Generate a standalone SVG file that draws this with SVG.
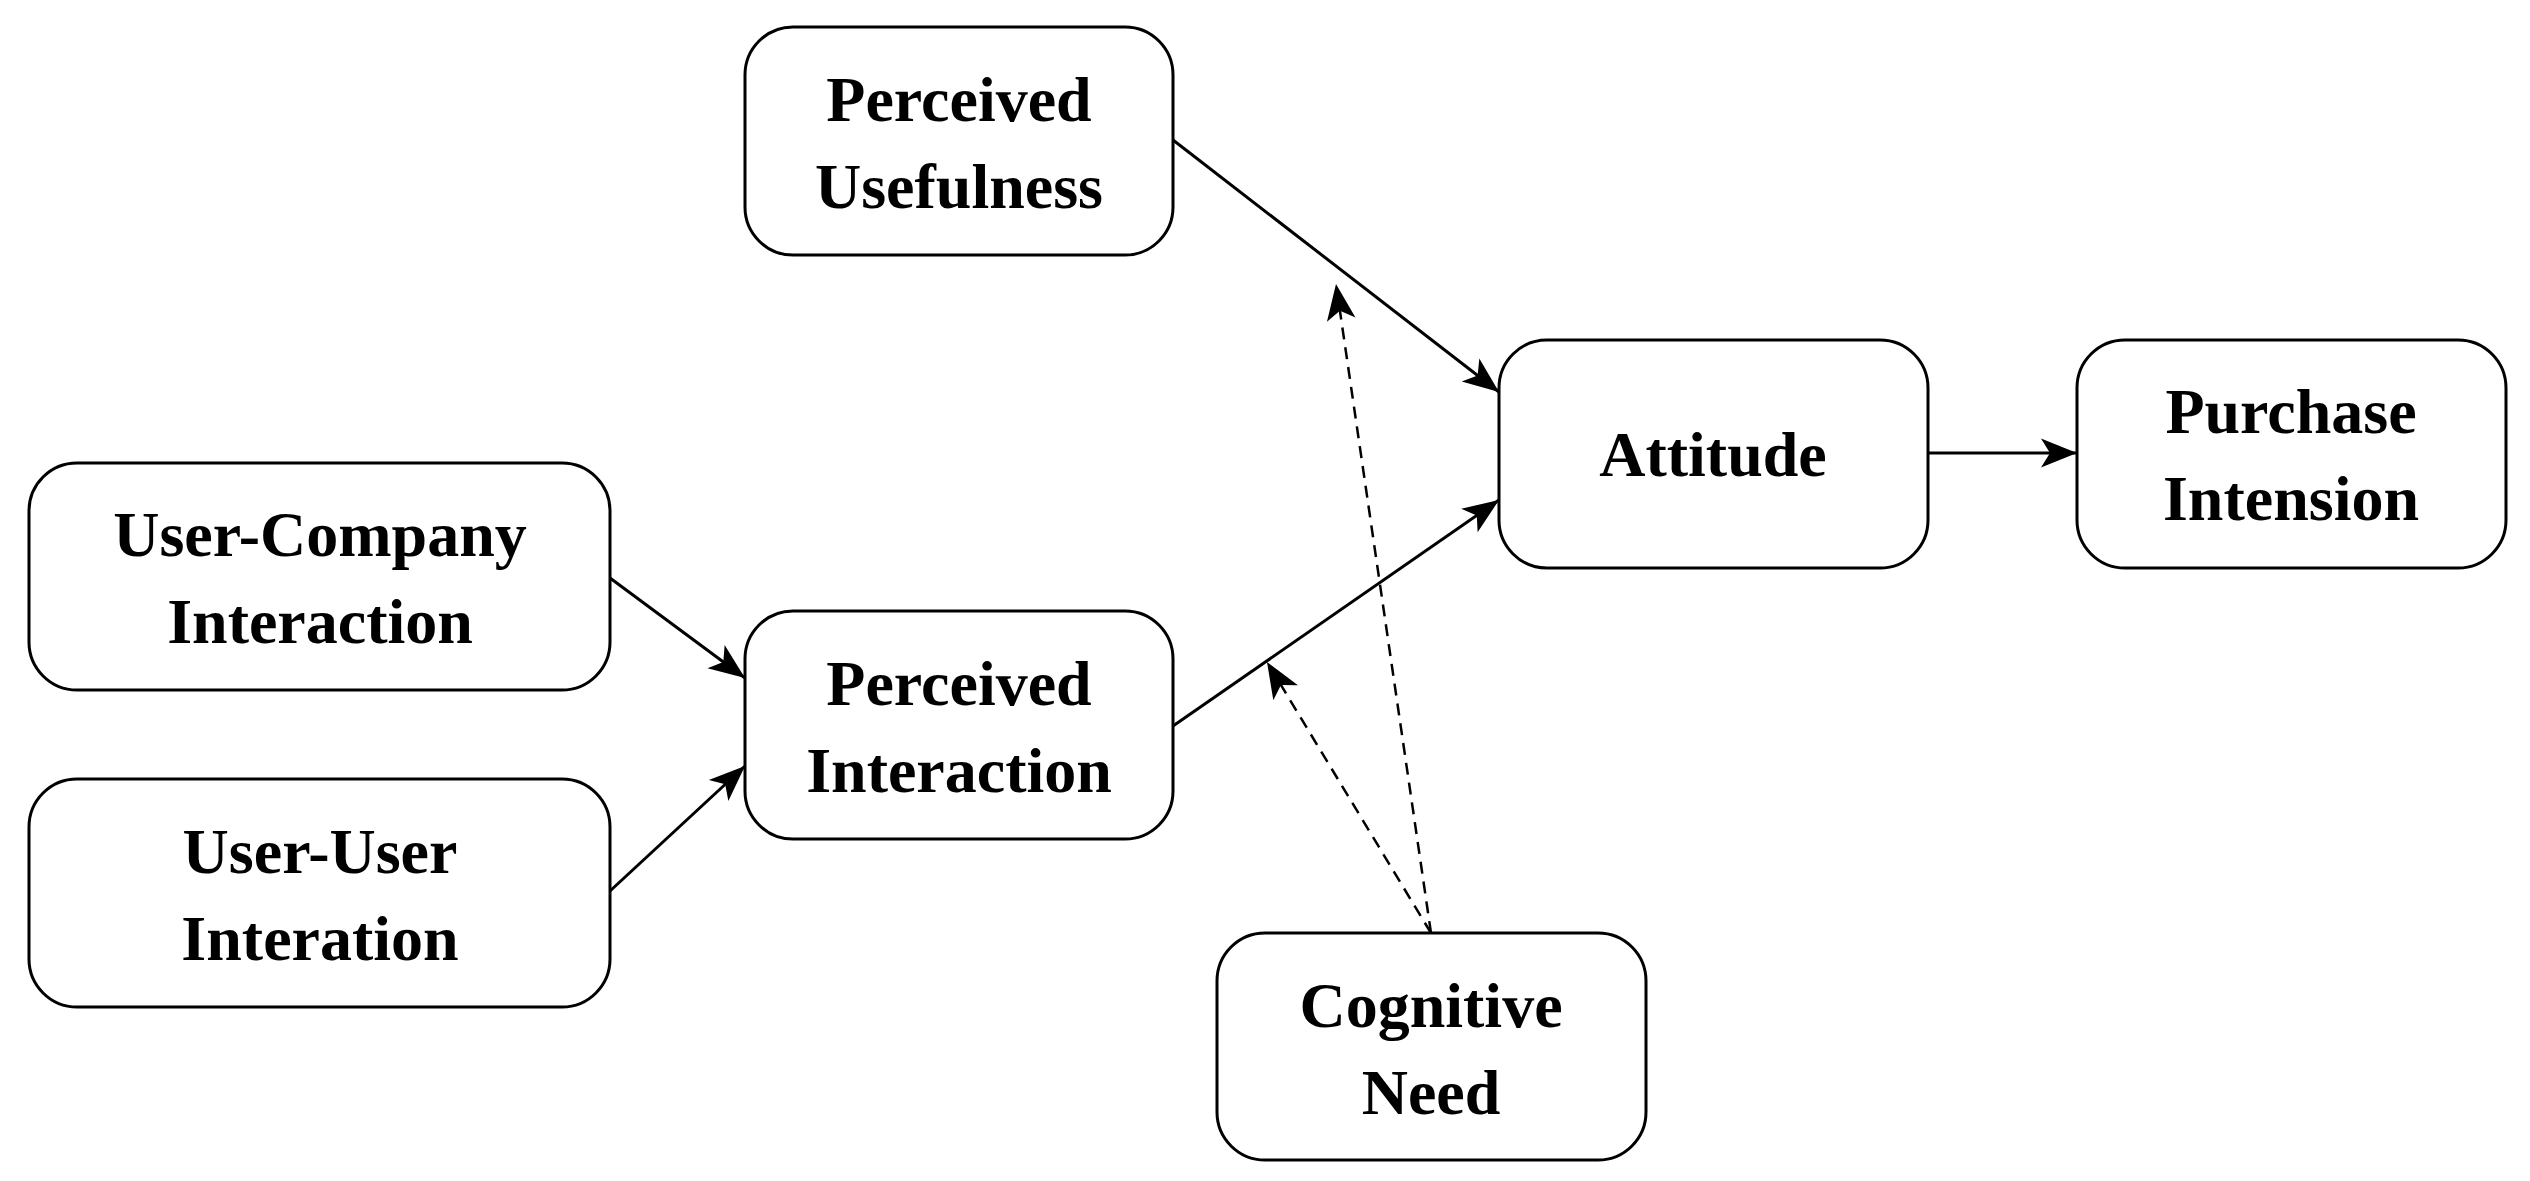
<svg xmlns="http://www.w3.org/2000/svg" width="2530" height="1181" viewBox="0 0 2530 1181">
<style>
.box{fill:#fff;stroke:#000;stroke-width:3}
.t{font-family:"Liberation Serif",serif;font-weight:bold;font-size:64px;text-anchor:middle;fill:#000}
.c{stroke:#000;stroke-width:3;fill:none}
.d{stroke-dasharray:12 8;stroke-width:2.5}
</style>
<defs><marker id="a" viewBox="0 0 10 10" refX="10" refY="5" markerWidth="12" markerHeight="12" markerUnits="userSpaceOnUse" orient="auto"><path d="M0,0L10,5L0,10L2.5,5z" fill="#000"/></marker>
<marker id="b" viewBox="0 0 10 10" refX="10" refY="5" markerWidth="36" markerHeight="36" markerUnits="userSpaceOnUse" orient="auto"><path d="M0,1L10,5L0,9L2.5,5z" fill="#000"/></marker></defs>
<rect width="2530" height="1181" fill="#fff"/>
<g id="connectors">
<line class="c" x1="1173" y1="140" x2="1499" y2="392" marker-end="url(#b)"/>
<line class="c" x1="1173" y1="726" x2="1499" y2="500" marker-end="url(#b)"/>
<line class="c" x1="610" y1="578" x2="745" y2="678" marker-end="url(#b)"/>
<line class="c" x1="610" y1="891" x2="745" y2="766" marker-end="url(#b)"/>
<line class="c" x1="1928" y1="453" x2="2077" y2="453" marker-end="url(#b)"/>
<line class="c d" x1="1431" y1="933" x2="1336" y2="284" marker-end="url(#b)"/>
<line class="c d" x1="1431" y1="933" x2="1267" y2="662" marker-end="url(#b)"/>
</g>
<g id="pu"><rect class="box" x="745" y="27" width="428" height="228" rx="48"/><text class="t" x="959" y="121">Perceived</text><text class="t" x="959" y="208">Usefulness</text></g>
<g id="uc"><rect class="box" x="29" y="463" width="581" height="227" rx="48"/><text class="t" x="320" y="556">User-Company</text><text class="t" x="320" y="643">Interaction</text></g>
<g id="pi"><rect class="box" x="745" y="611" width="428" height="228" rx="48"/><text class="t" x="959" y="705">Perceived</text><text class="t" x="959" y="792">Interaction</text></g>
<g id="uu"><rect class="box" x="29" y="779" width="581" height="228" rx="48"/><text class="t" x="320" y="873">User-User</text><text class="t" x="320" y="960">Interation</text></g>
<g id="att"><rect class="box" x="1499" y="340" width="429" height="228" rx="48"/><text class="t" x="1713" y="476">Attitude</text></g>
<g id="pc"><rect class="box" x="2077" y="340" width="429" height="228" rx="48"/><text class="t" x="2291" y="433">Purchase</text><text class="t" x="2291" y="520">Intension</text></g>
<g id="cn"><rect class="box" x="1217" y="933" width="429" height="227" rx="48"/><text class="t" x="1431" y="1027">Cognitive</text><text class="t" x="1431" y="1114">Need</text></g>
</svg>
